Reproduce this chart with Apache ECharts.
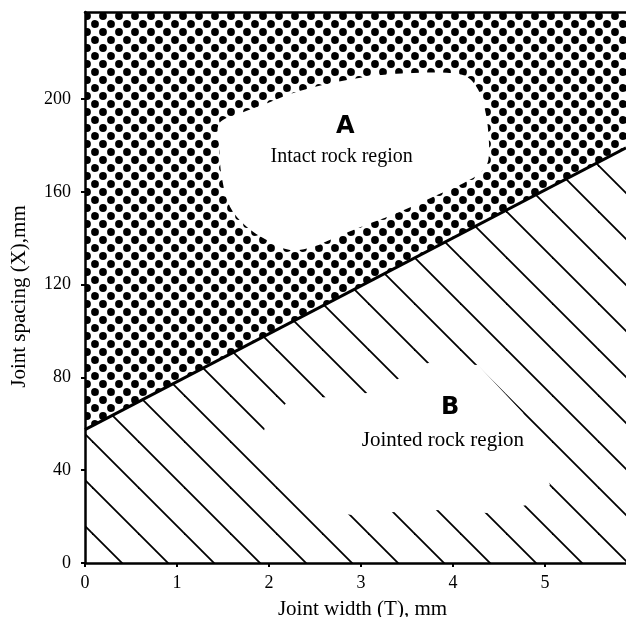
<!DOCTYPE html>
<html><head><meta charset="utf-8">
<script src="https://cdn.jsdelivr.net/npm/echarts@6/dist/echarts.min.js"></script>
<style>html,body{margin:0;padding:0;background:#fff}#c{width:626px;height:617px}</style>
</head><body><div id="c"></div>
<script>
// ---- data ----
const xTicks = [0, 1, 2, 3, 4, 5];
const yTicks = [0, 40, 80, 120, 160, 200];
const xRange = [0, 5.88];
const yRange = [0, 237.5];
const boundaryT = [0, 5.88];
const boundaryX = [57.5, 179];
// outline of the clear "intact rock" island (T, X)
const blobAT = [1.459,1.685,1.975,2.301,2.663,3.062,3.497,3.932,4.149,4.275,4.348,4.384,4.384,4.312,4.112,3.786,3.424,3.098,2.736,2.482,2.228,1.975,1.757,1.576,1.486,1.459];
const blobAX = [189.5,193.8,198.1,203.1,206.7,209.6,211.1,211.3,209.6,203.9,195.3,185.2,173.7,168.7,163.7,157.9,151.4,146.4,140.6,136.3,134.9,139.2,144.9,153.6,166.5,179.4];
// outline of the clear area around the "jointed rock" label (T, X)
const blobBT = [1.848,1.957,2.196,2.630,3.065,3.424,3.728,4.272,4.761,5.054,4.804,4.370,3.859,3.370,2.902,2.315];
const blobBX = [43.5,58.6,69.4,71.6,73.3,79.7,86.2,85.3,64.7,33.6,25.0,21.6,22.8,22.0,20.7,24.1];
const labelText = ['A', 'Intact rock region', 'B', 'Jointed rock region'];
const labelT = [2.83, 2.79, 3.97, 3.89];
const labelX = [188, 175, 66.8, 53];
const xName = 'Joint width (T), mm';
const yName = 'Joint spacing (X),mm';

// ---- styles ----
const SERIF = 'Liberation Serif';
const labelStyles = [
  {font: 'bold 24px "DejaVu Sans"'},
  {font: '20px "Liberation Serif"'},
  {font: 'bold 24px "DejaVu Sans"'},
  {font: '21px "Liberation Serif"'}
];

function hatchTile() {
  const P = 46, ph = 19;
  const c = document.createElement('canvas'); c.width = P; c.height = P;
  const g = c.getContext('2d');
  g.fillStyle = '#fff'; g.fillRect(0, 0, P, P);
  g.strokeStyle = '#000'; g.lineWidth = 1.8;
  for (let k = -2; k <= 2; k++) {
    const o = ph + k * P;
    g.beginPath(); g.moveTo(o - 10, -10); g.lineTo(o + P + 10, P + 10); g.stroke();
  }
  return c;
}
function dotTile() {
  const P = 16;
  const c = document.createElement('canvas'); c.width = P; c.height = P;
  const g = c.getContext('2d');
  g.fillStyle = '#fff'; g.fillRect(0, 0, P, P);
  g.fillStyle = '#000';
  [[7, 0], [15, 8]].forEach(([cx, cy]) => {
    for (let dx = -P; dx <= P; dx += P) for (let dy = -P; dy <= P; dy += P) {
      g.beginPath(); g.arc(cx + dx, cy + dy, 3.9, 0, Math.PI * 2); g.fill();
    }
  });
  return c;
}

const boundary = boundaryT.map((t, i) => [t, boundaryX[i]]);
const chart = echarts.init(document.getElementById('c'), null, {renderer: 'canvas'});

function polyRender(T, X, smooth) {
  return function (params, api) {
    return {type: 'polygon', shape: {points: T.map((t, i) => api.coord([t, X[i]])), smooth: smooth},
      style: {fill: '#fff', stroke: null}};
  };
}

const axisLineStyle = {color: '#000', width: 2.5};
chart.setOption({
  animation: false,
  backgroundColor: '#fff',
  grid: {left: 85, right: 0, top: 12, bottom: 54, containLabel: false, outerBoundsMode: 'none'},
  xAxis: [{
    type: 'value', min: xRange[0], max: xRange[1], position: 'bottom', z: 10,
    axisLine: {show: true, lineStyle: axisLineStyle},
    axisTick: {show: true, length: 4, lineStyle: {color: '#000', width: 2}, customValues: xTicks},
    axisLabel: {customValues: xTicks, color: '#000', fontFamily: SERIF, fontSize: 18, margin: 11},
    splitLine: {show: false},
    name: xName, nameLocation: 'middle', nameGap: 36,
    nameTextStyle: {color: '#000', fontFamily: SERIF, fontSize: 21, padding: [0, 0, 0, 14]}
  }, {
    type: 'value', min: xRange[0], max: xRange[1], position: 'top', z: 10,
    axisLine: {show: true, lineStyle: axisLineStyle},
    axisTick: {show: false}, axisLabel: {show: false}, splitLine: {show: false}
  }],
  yAxis: [{
    type: 'value', min: yRange[0], max: yRange[1], z: 10,
    axisLine: {show: true, lineStyle: axisLineStyle},
    axisTick: {show: true, length: 4, lineStyle: {color: '#000', width: 2}, customValues: yTicks},
    axisLabel: {customValues: yTicks, color: '#000', fontFamily: SERIF, fontSize: 18, margin: 14},
    splitLine: {show: false},
    name: yName, nameLocation: 'middle', nameGap: 55,
    nameTextStyle: {color: '#000', fontFamily: SERIF, fontSize: 21, padding: [0, 18, 0, 0]}
  }],
  series: [
    {type: 'line', data: boundary, showSymbol: false, silent: true, z: 1,
      lineStyle: {width: 0, opacity: 0},
      areaStyle: {origin: 'start', opacity: 1, color: {image: hatchTile(), repeat: 'repeat'}}},
    {type: 'line', data: boundary, showSymbol: false, silent: true, z: 1,
      lineStyle: {width: 0, opacity: 0},
      areaStyle: {origin: 'end', opacity: 1, color: {image: dotTile(), repeat: 'repeat'}}},
    {type: 'custom', data: [0], silent: true, z: 3, renderItem: polyRender(blobAT, blobAX, 0.35)},
    {type: 'custom', data: [0], silent: true, z: 3, renderItem: polyRender(blobBT, blobBX, 0)},
    {type: 'line', data: boundary, showSymbol: false, silent: true, z: 5,
      lineStyle: {color: '#000', width: 3}},
    {type: 'custom', data: labelText.map((s, i) => i), silent: true, z: 6,
      renderItem: function (params, api) {
        const i = params.dataIndex;
        const p = api.coord([labelT[i], labelX[i]]);
        return {type: 'text', x: p[0], y: p[1],
          style: {text: labelText[i], font: labelStyles[i].font, fill: '#000', align: 'center', verticalAlign: 'middle'}};
      }}
  ]
});
</script>
</body></html>
